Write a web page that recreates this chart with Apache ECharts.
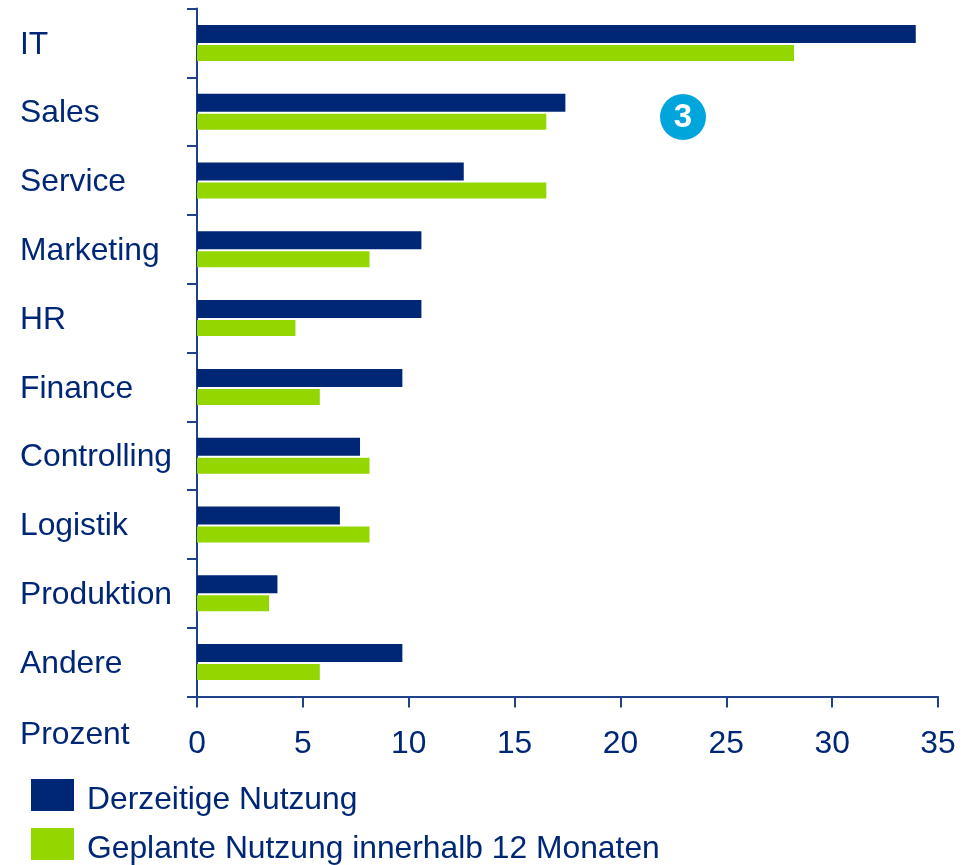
<!DOCTYPE html>
<html><head><meta charset="utf-8">
<style>html,body{margin:0;padding:0;background:#fff}#c{width:974px;height:865px}</style>
<script src="https://cdn.jsdelivr.net/npm/echarts@6/dist/echarts.min.js"></script>
</head><body><div id="c"></div>
<script>
const categories = ['IT','Sales','Service','Marketing','HR','Finance','Controlling','Logistik','Produktion','Andere'];
const current = [33.95,17.4,12.6,10.6,10.6,9.7,7.7,6.75,3.8,9.7];
const planned = [28.2,16.5,16.5,8.15,4.65,5.8,8.15,8.15,3.4,5.8];
const seriesNames = ['Derzeitige Nutzung','Geplante Nutzung innerhalb 12 Monaten'];
const xTicks = {min:0,max:35,interval:5};
const navy='#002776', green='#94d600', axisC='#1f4288', font='"Liberation Sans", Arial, sans-serif', fs=31.8;
const legendBase = {left:31,padding:0,orient:'horizontal',itemWidth:43,itemHeight:32,icon:'rect',
  formatter:n=>'{a|'+n+'}',
  textStyle:{color:navy,fontSize:fs,fontFamily:font,padding:[0,0,0,8],
    rich:{a:{color:navy,fontSize:fs,fontFamily:font,padding:[10,0,0,0]}}}};
const chart = echarts.init(document.getElementById('c'),null,{renderer:'canvas'});
chart.setOption({
  animation:false,
  textStyle:{fontFamily:font},
  grid:{left:197,right:36,top:8.5,bottom:168.5,containLabel:false},
  legend:[
    Object.assign({},legendBase,{top:779,data:[seriesNames[0]]}),
    Object.assign({},legendBase,{top:828,data:[seriesNames[1]]})
  ],
  xAxis:{type:'value',position:'bottom',min:xTicks.min,max:xTicks.max,interval:xTicks.interval,
    splitLine:{show:false},
    axisLine:{show:true,lineStyle:{color:axisC,width:2}},
    axisTick:{show:true,inside:false,length:11,lineStyle:{color:axisC,width:2}},
    axisLabel:{color:navy,fontSize:fs,fontFamily:font,margin:32,hideOverlap:false,showMinLabel:true,showMaxLabel:true}},
  yAxis:{type:'category',inverse:true,data:categories,
    axisLine:{show:true,lineStyle:{color:axisC,width:2}},
    axisTick:{show:true,length:10,lineStyle:{color:axisC,width:2}},
    axisLabel:{fontSize:fs,fontFamily:font,align:'left',margin:177,interval:0,
      formatter:v=>'{a|'+v+'}',rich:{a:{color:navy,fontSize:fs,fontFamily:font,padding:[4,0,0,0]}}}},
  series:[
    {name:seriesNames[0],type:'bar',data:current,barWidth:18,barGap:'11%',itemStyle:{color:navy}},
    {name:seriesNames[1],type:'bar',data:planned,barWidth:16,itemStyle:{color:green}}
  ],
  graphic:[
    {type:'text',left:20,top:719,style:{text:'Prozent',fill:navy,font:fs+'px '+font}},
    {type:'circle',shape:{cx:683,cy:117,r:23},style:{fill:'#00a5dc'}},
    {type:'text',x:683,y:118,style:{text:'3',fill:'#fff',font:'bold 33px '+font,align:'center',verticalAlign:'middle'}}
  ]
});
</script></body></html>
